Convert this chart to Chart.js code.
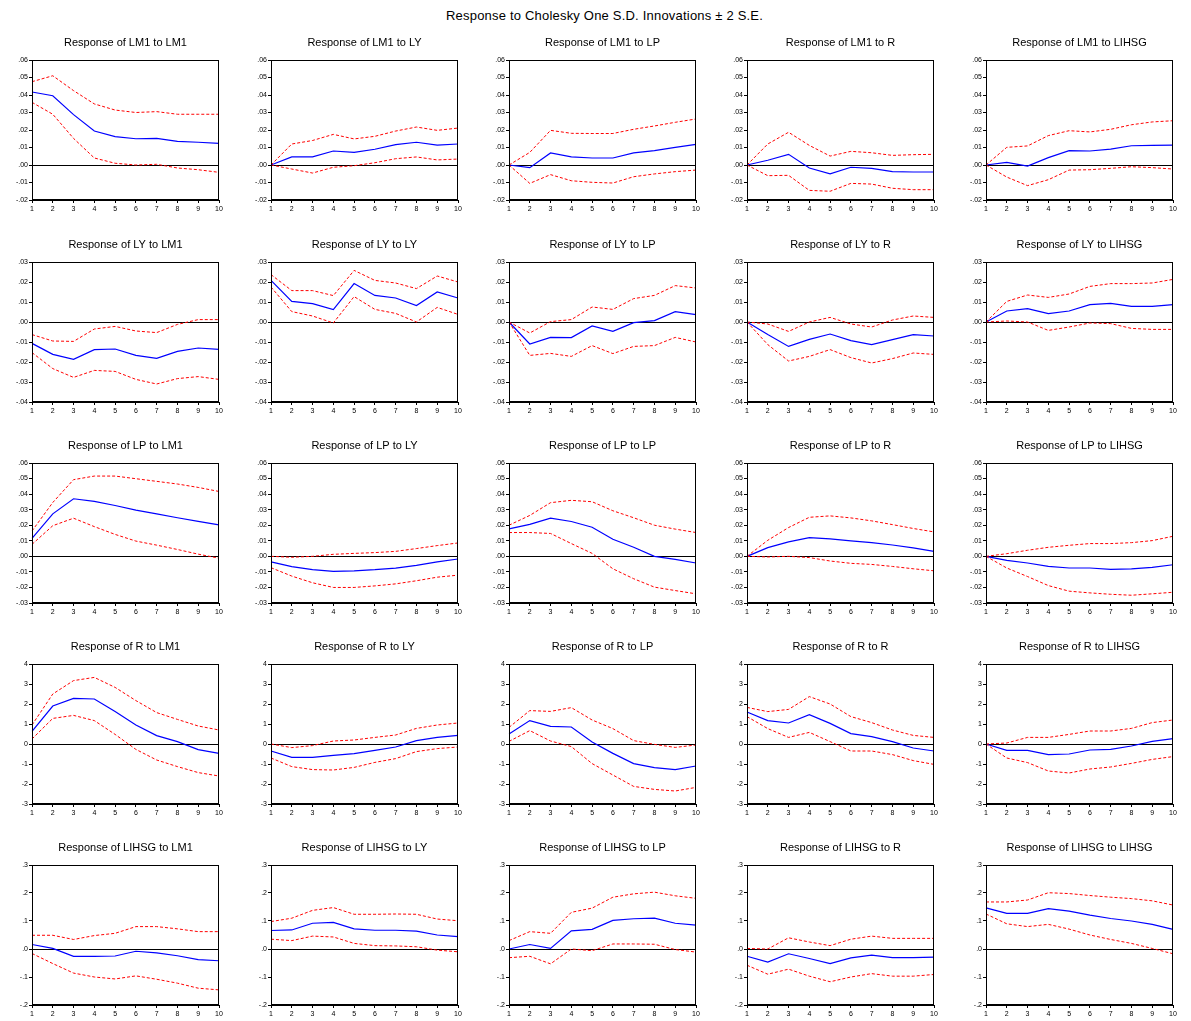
<!DOCTYPE html>
<html>
<head>
<meta charset="utf-8">
<script src="https://cdn.jsdelivr.net/npm/chart.js@4.4.1/dist/chart.umd.min.js"></script>
<style>
  body { margin: 0; background: #fff; width: 1191px; height: 1021px; position: relative; overflow: hidden; }
  #mainTitle { position: absolute; top: 8px; left: 0; width: 1209px; text-align: center;
    font: 13px "Liberation Sans", Arial, sans-serif; color: #000; letter-spacing: 0.2px; }
  canvas { position: absolute; }
</style>
</head>
<body>
<div id="mainTitle">Response to Cholesky One S.D. Innovations ± 2 S.E.</div>

<script>
const periods = ['1', '2', '3', '4', '5', '6', '7', '8', '9', '10'];
const variables = ['LM1', 'LY', 'LP', 'R', 'LIHSG'];

// y axis range per responding variable (row)
const yMins = [-0.02, -0.04, -0.03, -3, -0.2];
const yMaxs = [0.06, 0.03, 0.06, 4, 0.3];
const ySteps = [0.01, 0.01, 0.01, 1, 0.1];
const yDigits = [2, 2, 2, 0, 1];

// response of LM1
const irf_LM1_LM1 = [0.0417, 0.0396, 0.0288, 0.0194, 0.0162, 0.0150, 0.0152, 0.0135, 0.0130, 0.0124];
const hi_LM1_LM1 = [0.0476, 0.0510, 0.0425, 0.0349, 0.0314, 0.0300, 0.0305, 0.0290, 0.0290, 0.0290];
const lo_LM1_LM1 = [0.0358, 0.0290, 0.0152, 0.0040, 0.0010, 0.0000, 0.0004, -0.0017, -0.0027, -0.0042];

const irf_LM1_LY = [0, 0.0046, 0.0046, 0.0080, 0.0072, 0.0090, 0.0116, 0.0130, 0.0114, 0.0120];
const hi_LM1_LY = [0, 0.0120, 0.0140, 0.0175, 0.0149, 0.0164, 0.0194, 0.0217, 0.0198, 0.0211];
const lo_LM1_LY = [0, -0.0023, -0.0046, -0.0013, -0.0004, 0.0013, 0.0036, 0.0046, 0.0029, 0.0034];

const irf_LM1_LP = [0, -0.0015, 0.0069, 0.0046, 0.0040, 0.0040, 0.0069, 0.0082, 0.0101, 0.0118];
const hi_LM1_LP = [0, 0.0072, 0.0198, 0.0181, 0.0180, 0.0180, 0.0204, 0.0223, 0.0244, 0.0263];
const lo_LM1_LP = [0, -0.0105, -0.0055, -0.0090, -0.0099, -0.0103, -0.0067, -0.0051, -0.0038, -0.0029];

const irf_LM1_R = [0, 0.0027, 0.0061, -0.0017, -0.0050, -0.0013, -0.0019, -0.0038, -0.0040, -0.0040];
const hi_LM1_R = [0, 0.0120, 0.0187, 0.0112, 0.0051, 0.0078, 0.0070, 0.0055, 0.0059, 0.0061];
const lo_LM1_R = [0, -0.0061, -0.0059, -0.0145, -0.0150, -0.0105, -0.0109, -0.0133, -0.0141, -0.0141];

const irf_LM1_LIHSG = [0, 0.0015, -0.0006, 0.0042, 0.0082, 0.0080, 0.0091, 0.0110, 0.0112, 0.0114];
const hi_LM1_LIHSG = [0, 0.0101, 0.0109, 0.0168, 0.0196, 0.0189, 0.0204, 0.0230, 0.0246, 0.0253];
const lo_LM1_LIHSG = [0, -0.0069, -0.0118, -0.0084, -0.0029, -0.0027, -0.0019, -0.0010, -0.0015, -0.0023];

// response of LY
const irf_LY_LM1 = [-0.0107, -0.0162, -0.0187, -0.0138, -0.0135, -0.0167, -0.0182, -0.0147, -0.0130, -0.0137];
const hi_LY_LM1 = [-0.0063, -0.0095, -0.0097, -0.0035, -0.0022, -0.0045, -0.0053, -0.0012, 0.0012, 0.0012];
const lo_LY_LM1 = [-0.0153, -0.0233, -0.0277, -0.0242, -0.0247, -0.0287, -0.0310, -0.0283, -0.0273, -0.0287];

const irf_LY_LY = [0.0208, 0.0103, 0.0092, 0.0062, 0.0192, 0.0133, 0.0120, 0.0082, 0.0150, 0.0120];
const hi_LY_LY = [0.0237, 0.0157, 0.0157, 0.0132, 0.0258, 0.0208, 0.0195, 0.0167, 0.0230, 0.0200];
const lo_LY_LY = [0.0175, 0.0052, 0.0030, -0.0005, 0.0127, 0.0063, 0.0043, 0.0000, 0.0073, 0.0038];

const irf_LY_LP = [0, -0.0110, -0.0077, -0.0078, -0.0020, -0.0047, -0.0003, 0.0007, 0.0052, 0.0037];
const hi_LY_LP = [0, -0.0055, 0.0002, 0.0012, 0.0075, 0.0063, 0.0117, 0.0133, 0.0182, 0.0170];
const lo_LY_LP = [0, -0.0167, -0.0157, -0.0172, -0.0118, -0.0158, -0.0122, -0.0118, -0.0077, -0.0100];

const irf_LY_R = [0, -0.0063, -0.0122, -0.0087, -0.0060, -0.0093, -0.0113, -0.0088, -0.0063, -0.0070];
const hi_LY_R = [0, -0.0010, -0.0047, 0.0000, 0.0023, -0.0010, -0.0025, 0.0010, 0.0030, 0.0023];
const lo_LY_R = [0, -0.0113, -0.0195, -0.0172, -0.0138, -0.0178, -0.0205, -0.0183, -0.0155, -0.0162];

const irf_LY_LIHSG = [0, 0.0055, 0.0067, 0.0042, 0.0055, 0.0087, 0.0093, 0.0078, 0.0078, 0.0087];
const hi_LY_LIHSG = [0, 0.0103, 0.0135, 0.0123, 0.0140, 0.0178, 0.0192, 0.0192, 0.0195, 0.0213];
const lo_LY_LIHSG = [0, 0.0005, 0.0000, -0.0042, -0.0025, -0.0005, -0.0008, -0.0032, -0.0037, -0.0037];

// response of LP
const irf_LP_LM1 = [0.0115, 0.0273, 0.0370, 0.0353, 0.0327, 0.0297, 0.0273, 0.0248, 0.0225, 0.0202];
const hi_LP_LM1 = [0.0163, 0.0346, 0.0493, 0.0516, 0.0516, 0.0499, 0.0482, 0.0465, 0.0443, 0.0417];
const lo_LP_LM1 = [0.0077, 0.0197, 0.0245, 0.0191, 0.0141, 0.0098, 0.0072, 0.0044, 0.0014, -0.0012];

const irf_LP_LY = [-0.0036, -0.0066, -0.0086, -0.0097, -0.0093, -0.0086, -0.0076, -0.0058, -0.0036, -0.0017];
const hi_LP_LY = [0, -0.0006, 0, 0.0013, 0.0019, 0.0024, 0.0032, 0.0050, 0.0069, 0.0086];
const lo_LP_LY = [-0.0073, -0.0127, -0.0170, -0.0200, -0.0200, -0.0190, -0.0177, -0.0157, -0.0134, -0.0121];

const irf_LP_LP = [0.0177, 0.0205, 0.0246, 0.0224, 0.0187, 0.0110, 0.0058, 0.0000, -0.0019, -0.0043];
const hi_LP_LP = [0.0200, 0.0263, 0.0345, 0.0360, 0.0351, 0.0293, 0.0248, 0.0200, 0.0175, 0.0153];
const lo_LP_LP = [0.0153, 0.0153, 0.0147, 0.0082, 0.0019, -0.0080, -0.0144, -0.0198, -0.0220, -0.0241];

const irf_LP_R = [0, 0.0056, 0.0093, 0.0120, 0.0112, 0.0100, 0.0088, 0.0073, 0.0054, 0.0032];
const hi_LP_R = [0, 0.0103, 0.0185, 0.0251, 0.0260, 0.0247, 0.0228, 0.0204, 0.0179, 0.0157];
const lo_LP_R = [0, -0.0004, 0, -0.0008, -0.0030, -0.0045, -0.0052, -0.0065, -0.0080, -0.0093];

const irf_LP_LIHSG = [0, -0.0026, -0.0043, -0.0065, -0.0075, -0.0075, -0.0084, -0.0080, -0.0071, -0.0054];
const hi_LP_LIHSG = [0, 0.0017, 0.0039, 0.0058, 0.0071, 0.0082, 0.0082, 0.0088, 0.0101, 0.0129];
const lo_LP_LIHSG = [0, -0.0075, -0.0130, -0.0188, -0.0224, -0.0235, -0.0244, -0.0250, -0.0241, -0.0231];

// response of R
const irf_R_LM1 = [0.63, 1.90, 2.28, 2.25, 1.62, 0.95, 0.42, 0.12, -0.28, -0.47];
const hi_R_LM1 = [0.95, 2.50, 3.17, 3.33, 2.83, 2.17, 1.57, 1.23, 0.90, 0.70];
const lo_R_LM1 = [0.25, 1.28, 1.43, 1.17, 0.48, -0.27, -0.80, -1.13, -1.43, -1.60];

const irf_R_LY = [-0.35, -0.67, -0.67, -0.57, -0.48, -0.32, -0.15, 0.17, 0.33, 0.43];
const hi_R_LY = [0, -0.18, -0.08, 0.15, 0.20, 0.33, 0.45, 0.78, 0.95, 1.05];
const lo_R_LY = [-0.70, -1.13, -1.28, -1.30, -1.17, -0.92, -0.73, -0.38, -0.23, -0.15];

const irf_R_LP = [0.50, 1.17, 0.88, 0.85, 0.10, -0.47, -0.98, -1.18, -1.28, -1.10];
const hi_R_LP = [0.83, 1.67, 1.63, 1.82, 1.20, 0.77, 0.17, -0.02, -0.17, -0.05];
const lo_R_LP = [0.13, 0.67, 0.15, -0.13, -0.98, -1.55, -2.12, -2.27, -2.35, -2.17];

const irf_R_R = [1.60, 1.17, 1.05, 1.47, 1.03, 0.52, 0.37, 0.12, -0.20, -0.35];
const hi_R_R = [1.83, 1.62, 1.73, 2.37, 2.00, 1.37, 1.07, 0.70, 0.43, 0.33];
const lo_R_R = [1.37, 0.77, 0.33, 0.58, 0.12, -0.35, -0.35, -0.53, -0.83, -1.02];

const irf_R_LIHSG = [0, -0.32, -0.32, -0.53, -0.50, -0.30, -0.27, -0.10, 0.13, 0.27];
const hi_R_LIHSG = [0, 0.05, 0.33, 0.33, 0.48, 0.65, 0.65, 0.78, 1.07, 1.20];
const lo_R_LIHSG = [0, -0.70, -0.93, -1.35, -1.45, -1.25, -1.15, -0.97, -0.77, -0.63];

// response of LIHSG
const irf_LIHSG_LM1 = [0.016, 0.002, -0.026, -0.026, -0.025, -0.008, -0.014, -0.024, -0.038, -0.042];
const hi_LIHSG_LM1 = [0.049, 0.049, 0.034, 0.048, 0.056, 0.080, 0.080, 0.072, 0.062, 0.062];
const lo_LIHSG_LM1 = [-0.016, -0.052, -0.086, -0.100, -0.107, -0.096, -0.108, -0.122, -0.140, -0.146];

const irf_LIHSG_LY = [0.066, 0.068, 0.092, 0.095, 0.072, 0.067, 0.067, 0.064, 0.050, 0.044];
const hi_LIHSG_LY = [0.098, 0.110, 0.138, 0.148, 0.124, 0.124, 0.125, 0.124, 0.107, 0.101];
const lo_LIHSG_LY = [0.035, 0.030, 0.046, 0.043, 0.020, 0.012, 0.011, 0.008, -0.004, -0.010];

const irf_LIHSG_LP = [0, 0.016, 0.002, 0.065, 0.070, 0.102, 0.108, 0.110, 0.092, 0.085];
const hi_LIHSG_LP = [0.030, 0.062, 0.056, 0.131, 0.146, 0.185, 0.197, 0.203, 0.190, 0.181];
const lo_LIHSG_LP = [-0.031, -0.026, -0.053, 0, -0.006, 0.018, 0.018, 0.017, -0.002, -0.011];

const irf_LIHSG_R = [-0.026, -0.047, -0.017, -0.034, -0.052, -0.032, -0.022, -0.031, -0.031, -0.029];
const hi_LIHSG_R = [0.002, 0, 0.040, 0.025, 0.012, 0.035, 0.046, 0.038, 0.038, 0.038];
const lo_LIHSG_R = [-0.058, -0.090, -0.072, -0.097, -0.117, -0.100, -0.088, -0.097, -0.097, -0.091];

const irf_LIHSG_LIHSG = [0.147, 0.127, 0.127, 0.144, 0.135, 0.121, 0.109, 0.100, 0.088, 0.070];
const hi_LIHSG_LIHSG = [0.168, 0.168, 0.175, 0.201, 0.198, 0.191, 0.185, 0.180, 0.172, 0.157];
const lo_LIHSG_LIHSG = [0.125, 0.090, 0.080, 0.088, 0.071, 0.050, 0.034, 0.020, 0.002, -0.017];

// table of panels: row = responding variable, col = shock
const panels = [
  [[irf_LM1_LM1, hi_LM1_LM1, lo_LM1_LM1], [irf_LM1_LY, hi_LM1_LY, lo_LM1_LY], [irf_LM1_LP, hi_LM1_LP, lo_LM1_LP], [irf_LM1_R, hi_LM1_R, lo_LM1_R], [irf_LM1_LIHSG, hi_LM1_LIHSG, lo_LM1_LIHSG]],
  [[irf_LY_LM1, hi_LY_LM1, lo_LY_LM1], [irf_LY_LY, hi_LY_LY, lo_LY_LY], [irf_LY_LP, hi_LY_LP, lo_LY_LP], [irf_LY_R, hi_LY_R, lo_LY_R], [irf_LY_LIHSG, hi_LY_LIHSG, lo_LY_LIHSG]],
  [[irf_LP_LM1, hi_LP_LM1, lo_LP_LM1], [irf_LP_LY, hi_LP_LY, lo_LP_LY], [irf_LP_LP, hi_LP_LP, lo_LP_LP], [irf_LP_R, hi_LP_R, lo_LP_R], [irf_LP_LIHSG, hi_LP_LIHSG, lo_LP_LIHSG]],
  [[irf_R_LM1, hi_R_LM1, lo_R_LM1], [irf_R_LY, hi_R_LY, lo_R_LY], [irf_R_LP, hi_R_LP, lo_R_LP], [irf_R_R, hi_R_R, lo_R_R], [irf_R_LIHSG, hi_R_LIHSG, lo_R_LIHSG]],
  [[irf_LIHSG_LM1, hi_LIHSG_LM1, lo_LIHSG_LM1], [irf_LIHSG_LY, hi_LIHSG_LY, lo_LIHSG_LY], [irf_LIHSG_LP, hi_LIHSG_LP, lo_LIHSG_LP], [irf_LIHSG_R, hi_LIHSG_R, lo_LIHSG_R], [irf_LIHSG_LIHSG, hi_LIHSG_LIHSG, lo_LIHSG_LIHSG]]
];

// layout of the grid
const plotLefts = [32, 271, 509, 747, 986];
const plotTops = [60, 262, 463, 664, 865];
const yAxisW = 30, titleH = 30, canvasW = 224, canvasH = 188;
const FONT = '"Liberation Sans", Arial, sans-serif';

// box round the plot area
const frame = {
  id: 'frame',
  afterDraw(chart) {
    const a = chart.chartArea, ctx = chart.ctx;
    ctx.save();
    ctx.strokeStyle = '#000';
    ctx.lineWidth = 1;
    ctx.strokeRect(Math.round(a.left) + 0.5, Math.round(a.top) + 0.5, Math.round(a.right - a.left) - 1, Math.round(a.bottom - a.top) - 1);
    ctx.restore();
  }
};

function fmt(v, d) {
  if (Math.abs(v) < 1e-9) return d === 0 ? '0' : '.' + '0'.repeat(d);
  const s = Math.abs(v).toFixed(d).replace(/^0/, '');
  return (v < 0 ? '-' : '') + s;
}

function line(data, red) {
  return {
    data: data,
    borderColor: red ? '#ff0000' : '#0000ff',
    borderWidth: red ? 1 : 1.2,
    borderDash: red ? [3, 2] : [],
    pointRadius: 0,
    tension: 0,
    fill: false
  };
}

for (let r = 0; r < 5; r++) {
  for (let c = 0; c < 5; c++) {
    const cv = document.createElement('canvas');
    cv.width = canvasW;
    cv.height = canvasH;
    cv.style.left = (plotLefts[c] - yAxisW) + 'px';
    cv.style.top = (plotTops[r] - titleH) + 'px';
    document.body.appendChild(cv);

    const [irf, hi, lo] = panels[r][c];
    new Chart(cv, {
      type: 'line',
      data: {
        labels: periods,
        datasets: [line(hi, true), line(lo, true), line(irf, false)]
      },
      options: {
        responsive: false,
        animation: false,
        devicePixelRatio: 1,
        layout: { padding: { left: 0, right: 7, top: 0, bottom: 2 } },
        plugins: {
          legend: { display: false },
          tooltip: { enabled: false },
          title: {
            display: true,
            fullSize: false,
            text: 'Response of ' + variables[r] + ' to ' + variables[c],
            color: '#000',
            font: { family: FONT, size: 11, weight: 'normal', lineHeight: '14px' },
            padding: { top: 6, bottom: 10 }
          }
        },
        scales: {
          x: {
            offset: false,
            grid: { drawOnChartArea: false, drawTicks: true, tickLength: 3, tickColor: '#000' },
            border: { color: '#000' },
            ticks: { autoSkip: false, maxRotation: 0, padding: 2, color: '#000', font: { family: FONT, size: 7 } },
            afterFit(s) { s.height = 16; }
          },
          y: {
            min: yMins[r],
            max: yMaxs[r],
            grid: {
              color: ctx => Math.abs(ctx.tick.value) < 1e-9 ? '#000' : 'rgba(0,0,0,0)',
              tickColor: '#000',
              tickLength: 3
            },
            border: { color: '#000' },
            ticks: {
              stepSize: ySteps[r],
              autoSkip: false,
              padding: 1,
              color: '#000',
              font: { family: FONT, size: 7 },
              callback: v => fmt(v, yDigits[r])
            },
            afterFit(s) { s.width = yAxisW; }
          }
        }
      },
      plugins: [frame]
    });
  }
}
</script>
</body>
</html>
